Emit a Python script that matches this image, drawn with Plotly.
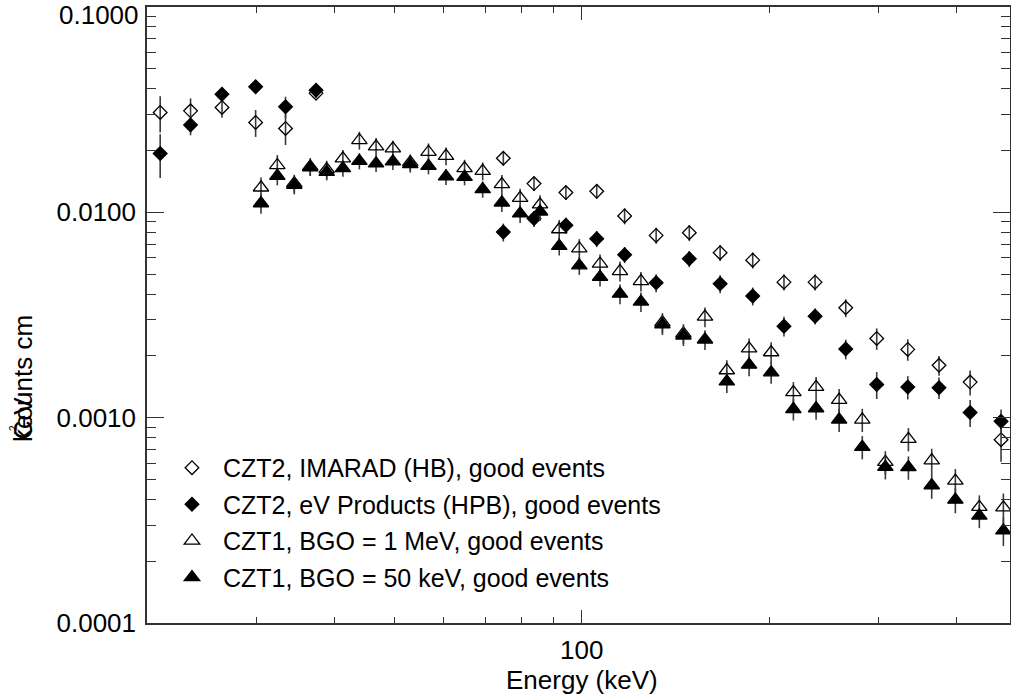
import plotly.graph_objects as go
import numpy as np

# ---------------- data ----------------
energy_czt2 = [21.0, 23.5, 26.4, 29.9, 33.4, 37.4, 74.8, 83.8, 94.3, 105.7, 117.2,
               131.7, 148.9, 166.9, 188.3, 211.4, 237.2, 265.7, 298.0, 334.3,
               375.3, 421.1, 472.2]
imarad_hb = [0.03064, 0.03120, 0.03242, 0.02739, 0.02561, 0.03806, 0.01834, 0.01380,
             0.01248, 0.01266, 0.00960, 0.00772, 0.00796, 0.00636, 0.00585, 0.00457,
             0.00457, 0.00343, 0.00243, 0.00215, 0.00180, 0.00149, 0.000781]
imarad_hb_relerr = [0.20, 0.15, 0.11, 0.15, 0.17, 0.05, 0.08, 0.08, 0.08, 0.08, 0.09,
                    0.09, 0.09, 0.09, 0.09, 0.09, 0.09, 0.10, 0.12, 0.12, 0.11, 0.14, 0.22]
evprod_hpb = [0.01934, 0.02666, 0.03763, 0.04086, 0.03264, 0.03936, 0.00801, 0.00932,
              0.00864, 0.00744, 0.00622, 0.00454, 0.00594, 0.00449, 0.00391, 0.00279,
              0.00312, 0.00216, 0.00145, 0.00141, 0.00140, 0.00106, 0.000960]
evprod_hpb_relerr = [0.24, 0.11, 0.08, 0.07, 0.12, 0.08, 0.10, 0.09, 0.09, 0.09, 0.09,
                     0.10, 0.09, 0.10, 0.10, 0.11, 0.09, 0.11, 0.15, 0.13, 0.12, 0.15, 0.14]

energy_czt1 = [30.5, 32.4, 34.5, 36.6, 38.9, 41.3, 43.9, 46.7, 49.7, 53.0, 56.7, 60.5,
               64.8, 69.3, 74.4, 79.6, 85.7, 92.0, 99.1, 107.0, 115.2, 124.5, 134.8,
               145.7, 157.8, 171.1, 185.8, 201.6, 218.9, 238.1, 259.3, 282.5, 307.7,
               335.1, 365.3, 398.7, 435.7, 476.3]
bgo_1mev = [0.01319, 0.01696, 0.01385, 0.01671, 0.01621, 0.01828, 0.02245, 0.02091,
            0.02045, 0.01754, 0.01968, 0.01882, 0.01639, 0.01590, 0.01370, 0.01174,
            0.01091, 0.00826, 0.00667, 0.00562, 0.00517, 0.00462, 0.00291, 0.00257,
            0.00310, 0.00170, 0.00217, 0.00208, 0.00133, 0.00141, 0.00122, 0.000978,
            0.000608, 0.000787, 0.000619, 0.000493, 0.000367, 0.000365]
bgo_1mev_relerr = [0.12, 0.12, 0.10, 0.10, 0.10, 0.10, 0.10, 0.10, 0.09, 0.09, 0.10,
                   0.10, 0.10, 0.10, 0.11, 0.11, 0.11, 0.11, 0.11, 0.11, 0.11, 0.11,
                   0.11, 0.11, 0.11, 0.12, 0.12, 0.12, 0.12, 0.12, 0.13, 0.13, 0.13,
                   0.13, 0.14, 0.14, 0.14, 0.17]
bgo_50kev = [0.01106, 0.01504, 0.01359, 0.01652, 0.01573, 0.01639, 0.01779, 0.01728,
             0.01767, 0.01714, 0.01682, 0.01493, 0.01487, 0.01295, 0.01115, 0.00986,
             0.01008, 0.00685, 0.00551, 0.00484, 0.00401, 0.00367, 0.00284, 0.00251,
             0.00240, 0.00150, 0.00181, 0.00166, 0.00110, 0.00111, 0.000978, 0.000720,
             0.000575, 0.000573, 0.000468, 0.000398, 0.000333, 0.000282]
bgo_50kev_relerr = [0.11, 0.10, 0.10, 0.09, 0.09, 0.09, 0.09, 0.09, 0.09, 0.09, 0.09,
                    0.09, 0.09, 0.09, 0.10, 0.10, 0.10, 0.10, 0.10, 0.10, 0.11, 0.11,
                    0.11, 0.11, 0.11, 0.12, 0.12, 0.12, 0.12, 0.12, 0.13, 0.13, 0.13,
                    0.13, 0.14, 0.14, 0.13, 0.16]

legend_names = ["CZT2, IMARAD (HB), good events",
                "CZT2, eV Products (HPB), good events",
                "CZT1, BGO = 1 MeV, good events",
                "CZT1, BGO = 50 keV, good events"]

x_major = [100]
x_major_text = ["100"]
x_minor = [20, 30, 40, 50, 60, 70, 80, 90, 200, 300, 400]
y_major = [1e-4, 1e-3, 1e-2, 1e-1]
y_major_text = ["0.0001", "0.0010", "0.0100", ""]
y_minor = [m * 10.0 ** e for e in (-4, -3, -2) for m in range(2, 10)]

# ---------------- figure ----------------
FONT = "Liberation Sans, Arial, Helvetica, sans-serif"
fig = go.Figure()

series = [
    (energy_czt2, imarad_hb, imarad_hb_relerr, "diamond-open", 10.5),
    (energy_czt2, evprod_hpb, evprod_hpb_relerr, "diamond", 10.5),
    (energy_czt1, bgo_1mev, bgo_1mev_relerr, "triangle-up-open", 13.5),
    (energy_czt1, bgo_50kev, bgo_50kev_relerr, "triangle-up", 13.5),
]
for i, (xs, ys, rel, sym, size) in enumerate(series):
    err = (np.array(ys) * np.array(rel)).tolist()
    fig.add_trace(go.Scatter(
        x=xs, y=ys, mode="markers", name=legend_names[i],
        legendgroup=f"g{i}",
        marker=dict(symbol=sym, size=size, color="black",
                    line=dict(color="black", width=1.3)),
        error_y=dict(type="data", array=err, visible=True, width=0,
                     thickness=1.6, color="#3a3a3a"),
    ))

axis_common = dict(
    showgrid=False, zeroline=False, showline=True, linecolor="#333333", linewidth=1.5,
    mirror="ticks", ticks="inside", tickcolor="#333333", tickwidth=1.3,
    tickfont=dict(family=FONT, size=26, color="black"), automargin=False,
)

fig.update_xaxes(
    type="log", range=[np.log10(20), 2.6885],
    tickvals=x_major, ticktext=x_major_text, ticklen=13,
    minor=dict(tickvals=x_minor, ticks="inside", ticklen=6, tickcolor="#333333", tickwidth=1.3),
    ticklabelstandoff=3,
    **axis_common,
)
fig.update_yaxes(
    type="log", range=[-4, -1],
    tickvals=y_major, ticktext=y_major_text, ticklen=17,
    minor=dict(tickvals=y_minor, ticks="inside", ticklen=9, tickcolor="#333333", tickwidth=1.3),
    ticklabelstandoff=4,
    **axis_common,
)

annotations = [
    dict(text="0.1000", x=0, xref="paper", xanchor="right", xshift=-6,
         y=1, yref="paper", yanchor="middle", yshift=-8,
         showarrow=False, font=dict(family=FONT, size=26, color="black")),
    dict(text="Energy (keV)", x=0.504, xref="paper", xanchor="center",
         y=-0.0925, yref="paper", yanchor="middle",
         showarrow=False, font=dict(family=FONT, size=26, color="black")),
    dict(text="Counts cm", x=-0.1437, xref="paper", xanchor="center",
         y=0.399, yref="paper", yanchor="middle", textangle=-90,
         showarrow=False, font=dict(family=FONT, size=26, color="black")),
    dict(text="keV", x=-0.1437, xref="paper", xanchor="center",
         y=0.331, yref="paper", yanchor="middle", textangle=-90,
         showarrow=False, font=dict(family=FONT, size=26, color="black")),
    dict(text="-2", x=-0.155, xref="paper", xanchor="center",
         y=0.313, yref="paper", yanchor="middle", textangle=-90,
         showarrow=False, font=dict(family=FONT, size=10, color="black")),
]

fig.update_layout(
    width=1011, height=698,
    margin=dict(l=147, r=1, t=7, b=75, autoexpand=False),
    paper_bgcolor="white", plot_bgcolor="white",
    showlegend=True,
    legend=dict(x=0.0162, y=0.289, xanchor="left", yanchor="top",
                bgcolor="rgba(0,0,0,0)", borderwidth=0,
                font=dict(family=FONT, size=25, color="black"),
                tracegroupgap=1, itemwidth=52),
    annotations=annotations,
)

fig.write_html("out.html", config={"displayModeBar": False},
               post_script="document.body.style.margin='0';document.body.style.padding='0';")
